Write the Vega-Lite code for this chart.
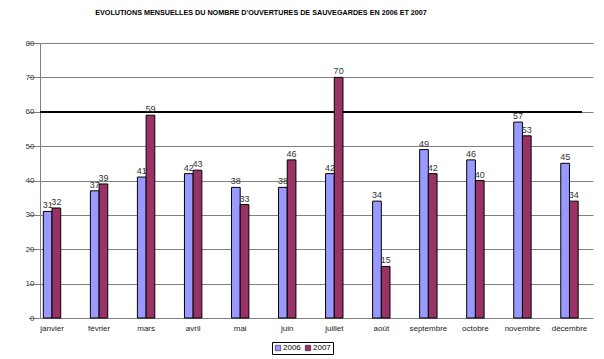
{
  "$schema": "https://vega.github.io/schema/vega-lite/v6.json",
  "width": 542,
  "height": 275,
  "autosize": "none",
  "padding": {"left": 40, "top": 43, "right": 22, "bottom": 41},
  "background": "white",
  "title": {
    "text": "EVOLUTIONS MENSUELLES DU NOMBRE D'OUVERTURES DE SAUVEGARDES EN 2006 ET 2007",
    "font": "Liberation Sans",
    "fontSize": 7.2,
    "fontWeight": "bold",
    "color": "#000000",
    "anchor": "middle",
    "dx": -50,
    "offset": 23
  },
  "config": {
    "view": {"stroke": null},
    "font": "Liberation Sans",
    "axisY": {
      "title": null,
      "values": [0, 10, 20, 30, 40, 50, 60, 70, 80],
      "labelFontSize": 8,
      "labelColor": "#333333",
      "labelPadding": 1,
      "labelOverlap": false,
      "tickSize": 5,
      "tickColor": "#808080",
      "domainColor": "#808080",
      "grid": true,
      "gridColor": "#808080",
      "gridOpacity": 1
    }
  },
  "data": {
    "values": [
      {"mois": "janvier", "annee": "2006", "valeur": 31},
      {"mois": "janvier", "annee": "2007", "valeur": 32},
      {"mois": "février", "annee": "2006", "valeur": 37},
      {"mois": "février", "annee": "2007", "valeur": 39},
      {"mois": "mars", "annee": "2006", "valeur": 41},
      {"mois": "mars", "annee": "2007", "valeur": 59},
      {"mois": "avril", "annee": "2006", "valeur": 42},
      {"mois": "avril", "annee": "2007", "valeur": 43},
      {"mois": "mai", "annee": "2006", "valeur": 38},
      {"mois": "mai", "annee": "2007", "valeur": 33},
      {"mois": "juin", "annee": "2006", "valeur": 38},
      {"mois": "juin", "annee": "2007", "valeur": 46},
      {"mois": "juillet", "annee": "2006", "valeur": 42},
      {"mois": "juillet", "annee": "2007", "valeur": 70},
      {"mois": "août", "annee": "2006", "valeur": 34},
      {"mois": "août", "annee": "2007", "valeur": 15},
      {"mois": "septembre", "annee": "2006", "valeur": 49},
      {"mois": "septembre", "annee": "2007", "valeur": 42},
      {"mois": "octobre", "annee": "2006", "valeur": 46},
      {"mois": "octobre", "annee": "2007", "valeur": 40},
      {"mois": "novembre", "annee": "2006", "valeur": 57},
      {"mois": "novembre", "annee": "2007", "valeur": 53},
      {"mois": "décembre", "annee": "2006", "valeur": 45},
      {"mois": "décembre", "annee": "2007", "valeur": 34}
    ]
  },
  "layer": [
    {
      "mark": {"type": "rule", "color": "#000000", "strokeWidth": 1},
      "encoding": {"y": {"datum": 60, "type": "quantitative", "scale": {"domain": [0, 80], "nice": false}}}
    },
    {
      "mark": {"type": "bar", "stroke": "#000000", "strokeWidth": 1},
      "encoding": {
        "x": {
          "field": "mois",
          "type": "nominal",
          "sort": ["janvier", "février", "mars", "avril", "mai", "juin", "juillet", "août", "septembre", "octobre", "novembre", "décembre"],
          "scale": {"range": [-11.5, 553], "paddingInner": 0.63, "paddingOuter": 0.315},
          "axis": {
            "title": null,
            "labelAngle": 0,
            "labelFontSize": 8,
            "labelColor": "#222222",
            "labelPadding": 6,
            "ticks": false,
            "domain": false
          }
        },
        "xOffset": {"field": "annee", "type": "nominal", "scale": {"paddingInner": 0, "paddingOuter": 0}},
        "y": {
          "field": "valeur",
          "type": "quantitative"
        },
        "color": {
          "field": "annee",
          "type": "nominal",
          "scale": {"domain": ["2006", "2007"], "range": ["#9999FF", "#993366"]},
          "legend": {
            "title": null,
            "orient": "none",
            "direction": "horizontal",
            "legendX": 232,
            "legendY": 299,
            "symbolType": "square",
            "symbolSize": 30,
            "symbolStrokeColor": "#000000",
            "symbolStrokeWidth": 0.5,
            "labelFontSize": 8,
            "labelColor": "#000000",
            "labelOffset": 1,
            "columnPadding": 3,
            "padding": 2,
            "strokeColor": "#000000",
            "fillColor": "white"
          }
        }
      }
    },
    {
      "mark": {"type": "text", "fontSize": 9, "color": "#333333", "baseline": "bottom", "dy": -1, "font": "Liberation Sans"},
      "encoding": {
        "x": {
          "field": "mois",
          "type": "nominal",
          "sort": ["janvier", "février", "mars", "avril", "mai", "juin", "juillet", "août", "septembre", "octobre", "novembre", "décembre"]
        },
        "xOffset": {"field": "annee", "type": "nominal"},
        "y": {"field": "valeur", "type": "quantitative"},
        "text": {"field": "valeur", "type": "quantitative"}
      }
    }
  ]
}
